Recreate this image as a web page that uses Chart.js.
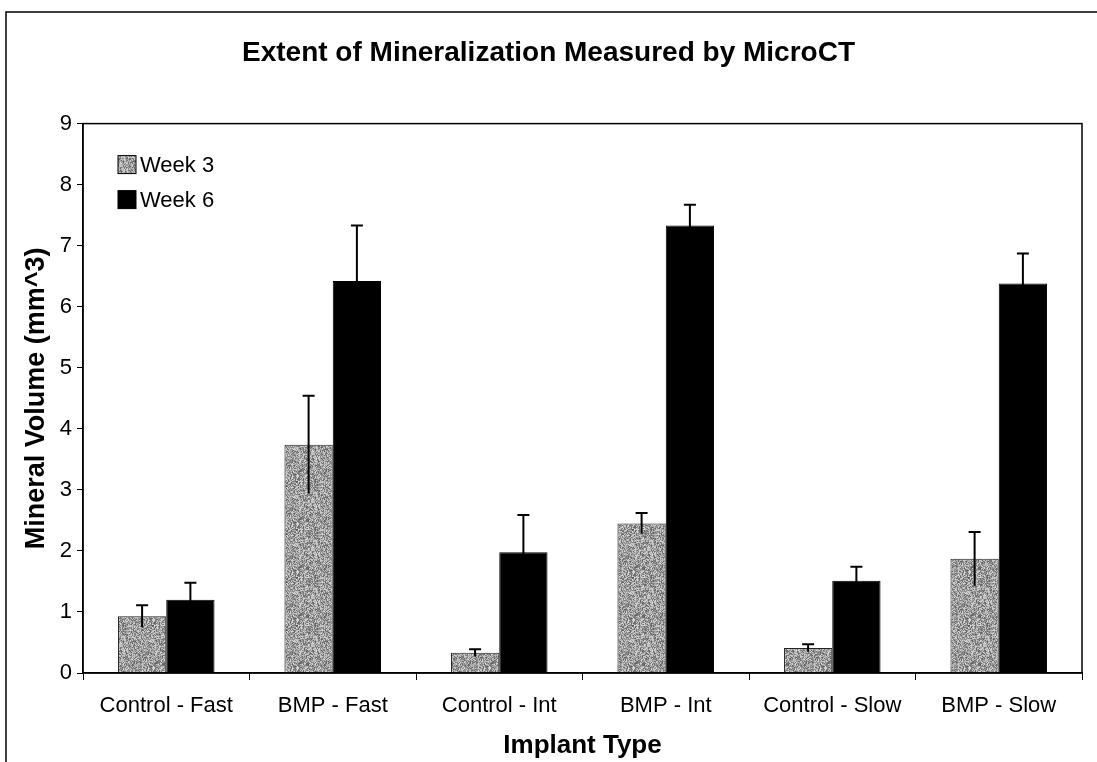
<!DOCTYPE html>
<html>
<head>
<meta charset="utf-8">
<title>Extent of Mineralization Measured by MicroCT</title>
<script src="https://cdn.jsdelivr.net/npm/chart.js@4/dist/chart.umd.min.js"></script>
<style>
  html, body { margin:0; padding:0; background:#fff; }
  #wrap { width:1097px; height:762px; }
</style>
</head>
<body>
<div id="wrap"><canvas id="chart" width="1097" height="762"></canvas></div>
<script>
/* ---------- data ---------- */
const categories = ["Control - Fast","BMP - Fast","Control - Int","BMP - Int","Control - Slow","BMP - Slow"];
const week3      = [0.93, 3.74, 0.33, 2.45, 0.41, 1.87];
const week3Err   = [0.18, 0.80, 0.06, 0.17, 0.06, 0.44];
const week6      = [1.20, 6.42, 1.98, 7.33, 1.51, 6.38];
const week6Err   = [0.28, 0.91, 0.61, 0.34, 0.23, 0.49];
const yMin = 0, yMax = 9, yStep = 1;

const FONT = "'Liberation Sans', Arial, sans-serif";

/* stippled grey fill for week 3 (fixed hash, no randomness) */
function makeStipple(){
  const c = document.createElement("canvas");
  c.width = 48; c.height = 48;
  const g = c.getContext("2d");
  const img = g.createImageData(48,48);
  for(let y=0;y<48;y++){
    for(let x=0;x<48;x++){
      const h = ((x*73856093) ^ (y*19349663) ^ (x*y*83492791)) >>> 0;
      const v = 95 + (h % 125);
      const i = (y*48+x)*4;
      img.data[i]=v; img.data[i+1]=v; img.data[i+2]=v; img.data[i+3]=255;
    }
  }
  g.putImageData(img,0,0);
  return g.createPattern(c,"repeat");
}
const ctx = document.getElementById("chart").getContext("2d");
const stipple = makeStipple();

/* ---------- plugins ---------- */

// white page + outer frame (top and left edges visible)
const framePlugin = {
  id:"frame",
  beforeDraw(chart){
    const c = chart.ctx;
    c.save();
    c.fillStyle = "#fff";
    c.fillRect(0,0,chart.width,chart.height);
    c.strokeStyle = "#000";
    c.lineWidth = 1.5;
    c.beginPath();
    c.moveTo(6, chart.height);
    c.lineTo(6, 12);
    c.lineTo(chart.width, 12);
    c.stroke();
    c.restore();
  },
  afterDraw(chart){
    const a = chart.chartArea, c = chart.ctx;
    c.save();
    c.strokeStyle = "#000";
    c.lineWidth = 1.5;
    c.strokeRect(a.left, a.top, a.right-a.left, a.bottom-a.top);
    c.restore();
  }
};

// error bars: symmetric line, cap on the top end
const errorBarPlugin = {
  id:"errorBars",
  afterDatasetsDraw(chart){
    const c = chart.ctx, ys = chart.scales.y;
    c.save();
    c.strokeStyle = "#000";
    c.lineWidth = 2;
    chart.data.datasets.forEach((ds,di)=>{
      const meta = chart.getDatasetMeta(di);
      meta.data.forEach((bar,i)=>{
        const v = ds.data[i], e = ds.errors[i];
        const yHi = ys.getPixelForValue(v+e);
        const yLo = ys.getPixelForValue(Math.max(0,v-e));
        c.beginPath();
        c.moveTo(bar.x, yLo);
        c.lineTo(bar.x, yHi);
        c.moveTo(bar.x-6, yHi);
        c.lineTo(bar.x+6, yHi);
        c.stroke();
      });
    });
    c.restore();
  }
};

// legend inside the plot, top-left
const insideLegend = {
  id:"insideLegend",
  afterDraw(chart){
    const a = chart.chartArea, c = chart.ctx;
    c.save();
    c.font = "22px " + FONT;
    c.textBaseline = "middle";
    chart.data.datasets.forEach((ds,i)=>{
      const x = a.left + 35, y = a.top + 32 + i*35;
      c.fillStyle = ds.backgroundColor;
      c.fillRect(x, y, 18, 18);
      c.strokeStyle = "#000";
      c.lineWidth = 1;
      c.strokeRect(x, y, 18, 18);
      c.fillStyle = "#000";
      c.fillText(ds.label, x + 22, y + 10);
    });
    c.restore();
  }
};

/* ---------- chart ---------- */
new Chart(ctx,{
  type:"bar",
  data:{
    labels:categories,
    datasets:[
      { label:"Week 3", data:week3, errors:week3Err,
        backgroundColor:stipple, borderColor:"#222", borderWidth:1 },
      { label:"Week 6", data:week6, errors:week6Err,
        backgroundColor:"#000", borderColor:"#000", borderWidth:1 }
    ]
  },
  options:{
    responsive:false,
    animation:false,
    layout:{ padding:{ left:0, right:0, top:0, bottom:0 } },
    datasets:{ bar:{ categoryPercentage:0.58, barPercentage:1.0 } },
    plugins:{
      legend:{ display:false },
      tooltip:{ enabled:false },
      title:{
        display:true,
        text:"Extent of Mineralization Measured by MicroCT",
        color:"#000",
        font:{ family:FONT, size:28, weight:"bold" },
        padding:{ top:36, bottom:54 }
      }
    },
    scales:{
      x:{
        afterFit(s){ s.height = 89; },
        grid:{ display:true, offset:true, drawOnChartArea:false, drawTicks:true,
               tickLength:7, color:"#000", lineWidth:1 },
        border:{ display:true, color:"#000", width:1.5 },
        ticks:{ color:"#000", padding:13, font:{ family:FONT, size:22 }, maxRotation:0 },
        title:{ display:true, text:"Implant Type", color:"#000",
                font:{ family:FONT, size:26, weight:"bold" }, padding:{ top:0, bottom:1 } }
      },
      y:{
        min:yMin, max:yMax,
        afterFit(s){ s.width = 83; },
        grid:{ display:true, drawOnChartArea:false, drawTicks:true,
               tickLength:6, color:"#000", lineWidth:1 },
        border:{ display:true, color:"#000", width:1.5 },
        ticks:{ stepSize:yStep, color:"#000", padding:5, font:{ family:FONT, size:22 } },
        title:{ display:true, text:"Mineral Volume (mm^3)", color:"#000",
                font:{ family:FONT, size:27, weight:"bold" }, padding:{ top:20, bottom:0 } }
      },
      // empty right-hand strip so the title centres on the whole page
      yRight:{
        position:"right",
        afterFit(s){ s.width = 15; },
        grid:{ display:false },
        border:{ display:false },
        ticks:{ display:false }
      }
    }
  },
  plugins:[framePlugin, errorBarPlugin, insideLegend]
});
</script>
</body>
</html>
